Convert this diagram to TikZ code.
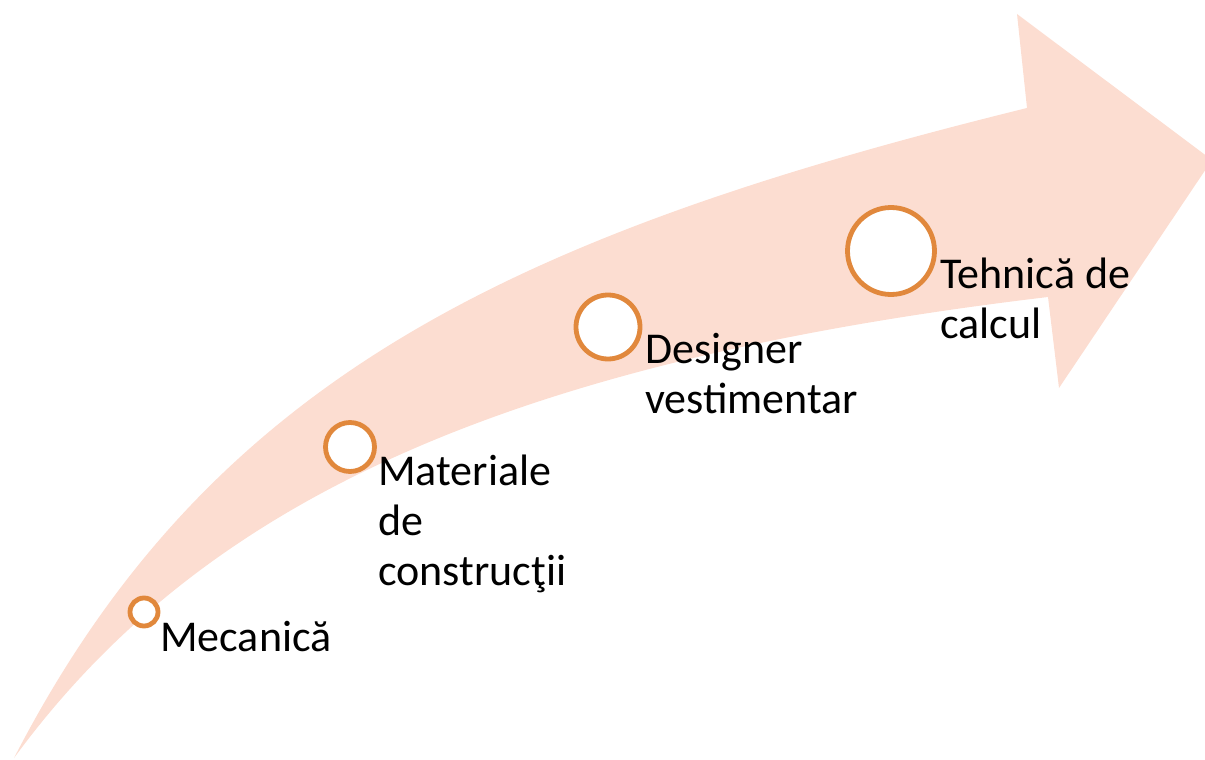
\documentclass[tikz,border=0pt]{standalone}
\usepackage{fontspec}
\setmainfont{Carlito}
\definecolor{arrowfill}{HTML}{FCDDD1}
\definecolor{ringcol}{HTML}{E1883C}
\begin{document}
\begin{tikzpicture}[x=1pt,y=-1pt,
  ring/.style={circle,draw=ringcol,line width=4.8pt,fill=white,inner sep=0pt},
  label/.style={anchor=base west,inner sep=0pt,font=\fontsize{44}{50}\selectfont}]
\useasboundingbox (0,0) rectangle (1205,760);
\begin{scope}
\clip (0,0) rectangle (1205,760);
\fill[arrowfill] (14,758) .. controls (210,378) and (512,235) .. (1027,108)
  -- (1017,14) -- (1212,160) -- (1059,388) -- (1048,297)
  .. controls (494,363) and (198,507) .. (14,758) -- cycle;
\end{scope}
\node[ring,minimum size=28pt] (c1) at (144,612) {};
\node[ring,minimum size=49pt] (c2) at (350,447) {};
\node[ring,minimum size=64pt] (c3) at (608,327) {};
\node[ring,minimum size=87pt] (c4) at (891,251) {};
\node[label] (t1) at (160,651) {Mecanică};
\node[label] (t2) at (378,485) {\begin{tabular}[t]{@{}l@{}}Materiale\\de\\construcţii\end{tabular}};
\node[label] (t3) at (645,363) {\begin{tabular}[t]{@{}l@{}}Designer\\vestimentar\end{tabular}};
\node[label] (t4) at (940,288) {\begin{tabular}[t]{@{}l@{}}Tehnică de\\calcul\end{tabular}};
\end{tikzpicture}
\end{document}
